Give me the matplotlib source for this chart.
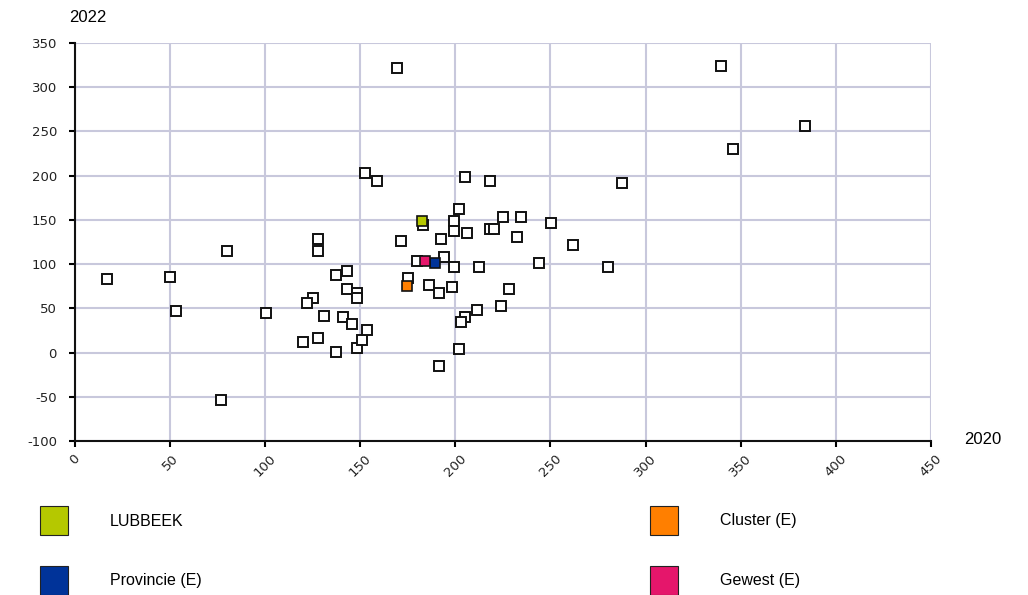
import matplotlib.pyplot as plt
from matplotlib.patches import Rectangle

plt.rcParams['font.family'] = ['Liberation Sans', 'DejaVu Sans']
plt.rcParams['axes.unicode_minus'] = False

# white squares: x = 2020, y = 2022
x_other = [17, 50, 53, 80, 77, 100.5, 128, 128, 137, 143, 143, 148, 148, 125, 122,
           131, 141, 145.6, 120, 128, 137, 148.5, 151, 153.6, 169.5, 152.6, 159, 205,
           218, 287.7, 339.5, 383.7, 345.8, 202, 183, 199, 199, 206, 192.6, 171.6,
           225, 234.7, 250.5, 218, 220.5, 232.6, 262, 244, 280.5, 212.6, 199, 194,
           180, 175, 186, 191.6, 198, 228, 224, 211.6, 205, 203, 202, 191.6]
y_other = [83, 85, 47, 115, -54, 45, 128, 115, 88, 92, 72, 67, 62, 62, 56,
           41, 40, 32, 12, 17, 1, 5, 14, 26, 322, 203, 194, 199,
           194, 192, 324, 256, 230.5, 162, 144, 149, 137.7, 135.5, 128, 126,
           153, 153, 146, 140, 140, 131, 121.6, 101, 97, 97, 97, 108,
           103.5, 84, 76, 67, 74, 72, 53, 48, 40, 35, 4, -15]

# highlighted series
names = ['LUBBEEK', 'Cluster (E)', 'Provincie (E)', 'Gewest (E)']
x_hl = [182.5, 174.7, 189.5, 184]
y_hl = [149, 75, 101, 103.5]
colors = ['#b5c800', '#ff7f00', '#003399', '#e5166b']

x_ticks = [0, 50, 100, 150, 200, 250, 300, 350, 400, 450]
y_ticks = [-100, -50, 0, 50, 100, 150, 200, 250, 300, 350]

fig = plt.figure(figsize=(10.28, 5.95), dpi=100)
ax = fig.add_axes([0.073, 0.2588, 0.8325, 0.6689])

ax.plot(x_other, y_other, 's', ms=7, mfc='white', mec='#111111', mew=1.4, ls='none', zorder=3)
for xv, yv, c in zip(x_hl, y_hl, colors):
    ax.plot([xv], [yv], 's', ms=7, mfc=c, mec='#111111', mew=1.2, ls='none', zorder=4)

ax.set_xlim(0, 450)
ax.set_ylim(-100, 350)
ax.set_xticks(x_ticks)
ax.set_yticks(y_ticks)
ax.grid(True, color='#c8c8dc', lw=1.5)
ax.set_axisbelow(True)
for s in ['top', 'right']:
    ax.spines[s].set_visible(False)
for s in ['left', 'bottom']:
    ax.spines[s].set_linewidth(1.5)
    ax.spines[s].set_color('#111111')
ax.tick_params(direction='out', length=4, width=1.5, labelcolor='#222222')
ax.tick_params(axis='y', pad=9)
ax.tick_params(axis='x', pad=4)
for lab in ax.get_yticklabels():
    lab.set_family('DejaVu Sans')
    lab.set_fontsize(9.5)
for lab in ax.get_xticklabels():
    lab.set_family('DejaVu Sans')
    lab.set_fontsize(9.5)
    lab.set_rotation(45)
    lab.set_ha('center')

fig.text(88 / 1028, 1 - 18 / 595, '2022', ha='center', va='center', fontsize=12)
fig.text(983 / 1028, 1 - 440 / 595, '2020', ha='center', va='center', fontsize=12)

# legend
pos = [(40, 506), (650, 506), (40, 566), (650, 566)]
for (px, py), name, c in zip(pos, names, colors):
    fig.add_artist(Rectangle((px / 1028, 1 - (py + 29) / 595), 28 / 1028, 29 / 595,
                             transform=fig.transFigure, facecolor=c,
                             edgecolor='#222222', lw=0.8))
    fig.text((px + 70) / 1028, 1 - (py + 15) / 595, name, ha='left', va='center', fontsize=11.5)

fig.savefig('out.png', dpi=100)
